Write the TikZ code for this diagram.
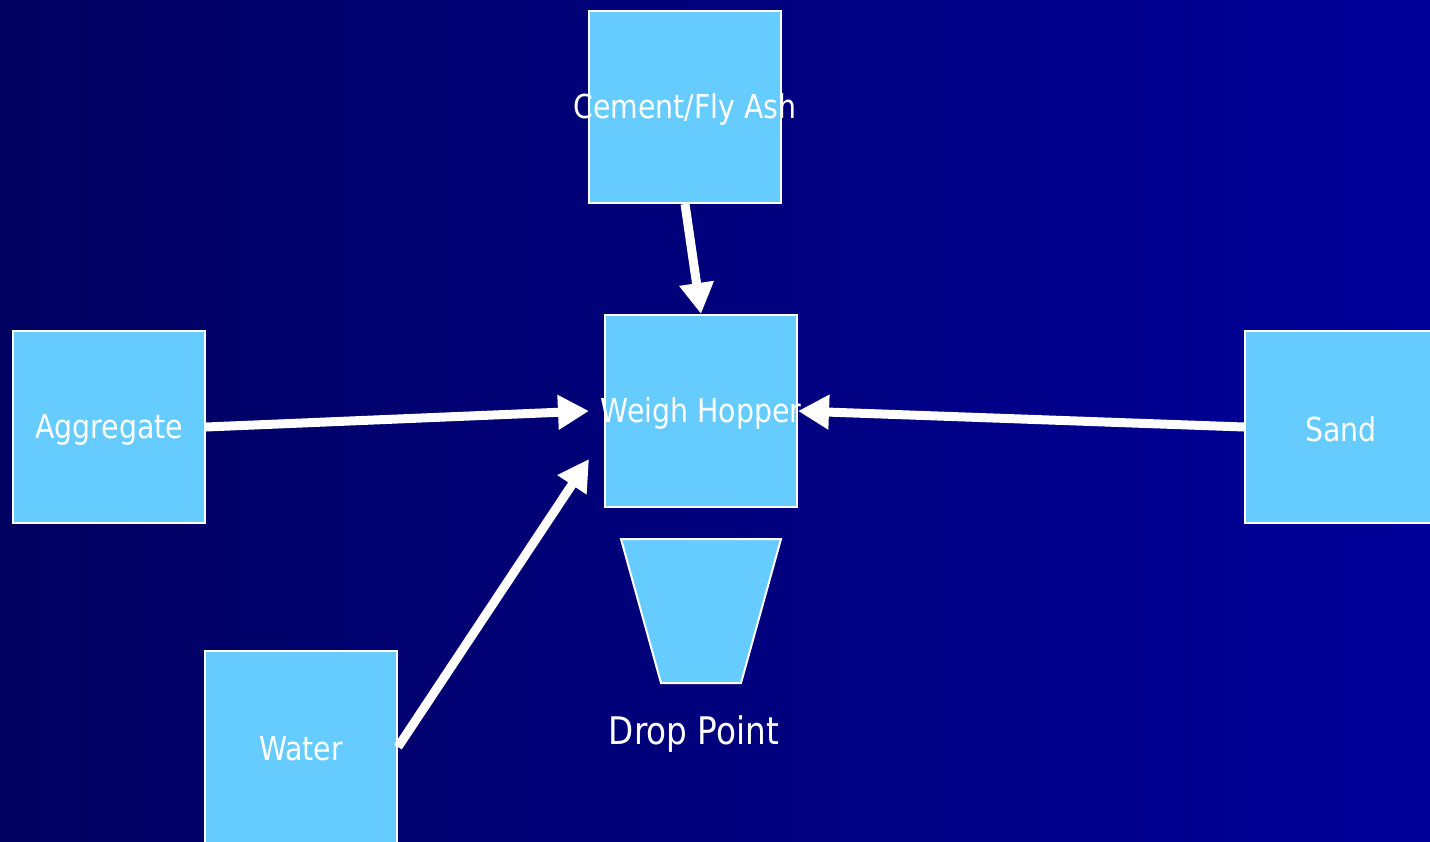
\documentclass[tikz,border=0pt]{standalone}
\usepackage{fontspec}
\setmainfont[FakeStretch=0.86]{DejaVu Sans}
\usetikzlibrary{arrows.meta}
\definecolor{bgleft}{RGB}{0,0,96}
\definecolor{bgright}{RGB}{0,0,153}
\definecolor{binfill}{RGB}{102,204,255}
\begin{document}
\begin{tikzpicture}[x=1pt,y=-1pt,
  bin/.style={draw=white,line width=2pt,fill=binfill,minimum size=192pt,
    inner sep=0pt,text=white,font=\fontsize{33}{33}\selectfont},
  label/.style={text=white,inner sep=0pt,font=\fontsize{33}{33}\selectfont},
  feed/.style={draw=white,line width=9pt,-{Triangle[length=31pt,width=33pt]}}]
  % background
  \shade[left color=bgleft,right color=bgright] (0,0) rectangle (1430,841);
  \useasboundingbox (0,0) rectangle (1430,841);
  \clip (0,0) rectangle (1430,841);

  % material bins
  \node[bin] (cem)  at (685,107)  {};
  \node[bin] (hop)  at (701,411)  {};
  \node[bin] (agg)  at (109,427)  {};
  \node[bin] (sand) at (1341,427) {};
  \node[bin] (wat)  at (301,747)  {};

  % bin labels
  \node[label] at (685,109) {Cement/Fly Ash};
  \node[label] at (701,413) {Weigh Hopper};
  \node[label] at (109,430) {Aggregate};
  \node[label] at (1341,429) {Sand};
  \node[label] at (301,749) {Water};

  % drop point funnel
  \draw[white,line width=2pt,fill=binfill]
    (621,539) -- (781,539) -- (741,683) -- (661,683) -- cycle;
  \node[label,font=\fontsize{38}{38}\selectfont] (drop) at (694,734) {Drop Point};

  % feed arrows into the hopper
  \coordinate (aggtip) at (589,411);
  \coordinate (wattip) at (589,459);
  \draw[feed] (cem.south) -- (hop.north);
  \draw[feed] (agg.east) -- (aggtip);
  \draw[feed] (sand.west) -- (hop.east);
  \draw[feed] (wat.east) -- (wattip);
\end{tikzpicture}
\end{document}
